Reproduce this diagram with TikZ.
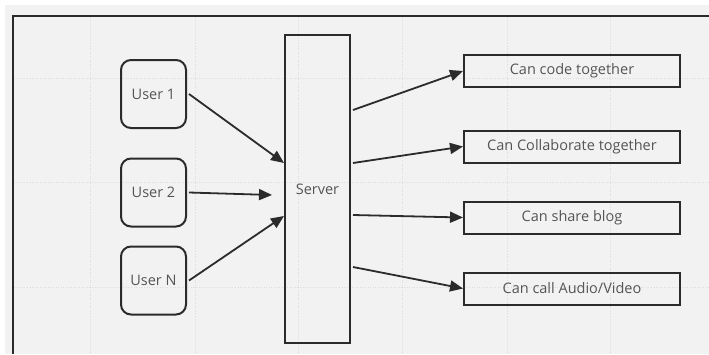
\documentclass[tikz,border=0pt]{standalone}
\usepackage{fontspec}
\setmainfont{Open Sans}
\usetikzlibrary{arrows.meta}
\definecolor{bg}{HTML}{F2F2F2}
\definecolor{ink}{HTML}{2B2B2B}
\definecolor{txt}{HTML}{555555}
\definecolor{gridc}{HTML}{DCDCDC}
\tikzset{
  basefont/.style={text=txt, font=\fontsize{14.5}{17}\selectfont},
  userbox/.style={basefont, draw=ink, line width=2pt, rounded corners=10pt, minimum width=65pt, minimum height=68pt, inner sep=0pt},
  serverbox/.style={basefont, draw=ink, line width=2pt, minimum width=65pt, minimum height=308pt, inner sep=0pt},
  featbox/.style={basefont, draw=ink, line width=2pt, minimum width=216pt, minimum height=32pt, inner sep=0pt},
  conn/.style={draw=ink, line width=1.8pt, -{Triangle[length=13pt,width=11pt]}},
  gridline/.style={draw=gridc, line width=0.6pt, dotted},
}
\begin{document}
\begin{tikzpicture}[x=1pt,y=-1pt]
\useasboundingbox (0,0) rectangle (709,354);
\fill[white] (0,0) rectangle (709,354);
\fill[bg] (5,5) rectangle (709,354);
% grid
\foreach \gx in {90,195,298,402,507,610} \draw[gridline] (\gx,17) -- (\gx,354);
\foreach \gy in {78,182,287} \draw[gridline] (14,\gy) -- (709,\gy);
% frame
\draw[ink, line width=2.2pt] (13,354) -- (13,16) -- (709,16);
% nodes
\node[userbox] (u1) at (153.5,94) {User 1};
\node[userbox] (u2) at (153.5,192.5) {User 2};
\node[userbox] (un) at (153.5,280.5) {User N};
\node[serverbox] (srv) at (317.5,189) {\raisebox{-3pt}{Server}};
\node[featbox] (f1) at (572,71) {Can code together};
\node[featbox] (f2) at (572,146.5) {Can Collaborate together};
\node[featbox] (f3) at (572,217.5) {Can share blog};
\node[featbox] (f4) at (572,288.5) {Can call Audio/Video};
% connectors
\draw[conn] ([xshift=2pt]u1.east) -- ([yshift=26pt]srv.west);
\draw[conn] ([xshift=2pt]u2.east) -- ([xshift=-12pt,yshift=-6pt]srv.west);
\draw[conn] ([xshift=2pt]un.east) -- ([yshift=-27pt]srv.west);
\draw[conn] ([xshift=2pt,yshift=79pt]srv.east) -- (f1.west);
\draw[conn] ([xshift=2pt,yshift=26pt]srv.east) -- (f2.west);
\draw[conn] ([xshift=2pt,yshift=-26pt]srv.east) -- (f3.west);
\draw[conn] ([xshift=2pt,yshift=-78pt]srv.east) -- (f4.west);
\end{tikzpicture}
\end{document}
